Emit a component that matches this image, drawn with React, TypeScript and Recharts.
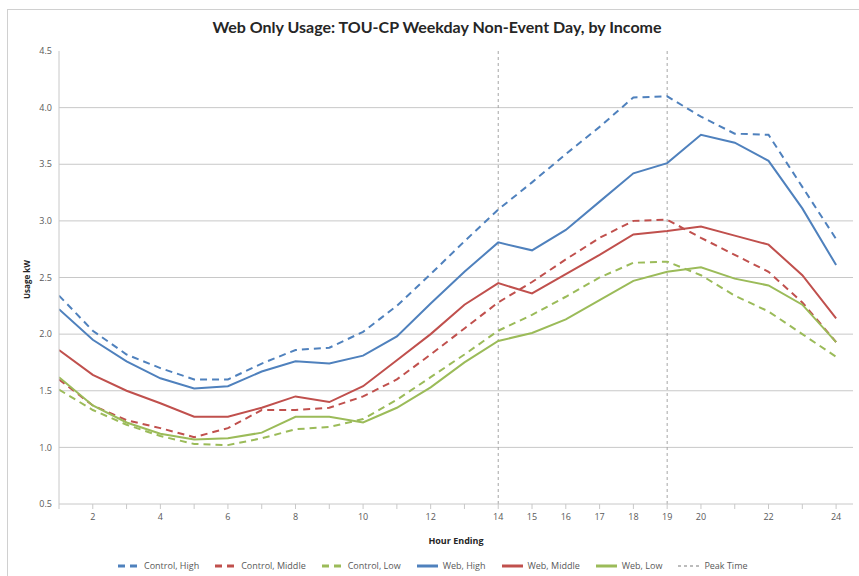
// Web only usage line chart, TOU-CP weekday non-event day, by income group

import { LineChart, Line, XAxis, YAxis, CartesianGrid, ReferenceLine } from 'recharts';

const hours = [1, 2, 3, 4, 5, 6, 7, 8, 9, 10, 11, 12, 13, 14, 15, 16, 17, 18, 19, 20, 21, 22, 23, 24];
const labeledHours = [2, 4, 6, 8, 10, 12, 14, 15, 16, 17, 18, 19, 20, 22, 24];
const yTicks = [0.5, 1.0, 1.5, 2.0, 2.5, 3.0, 3.5, 4.0, 4.5];
const peakHours = [14, 19];

const controlHigh = [2.34, 2.03, 1.82, 1.70, 1.60, 1.60, 1.74, 1.86, 1.88, 2.02, 2.25, 2.53, 2.82, 3.10, 3.34, 3.59, 3.83, 4.09, 4.10, 3.92, 3.77, 3.76, 3.30, 2.84];
const controlMiddle = [1.60, 1.37, 1.24, 1.17, 1.09, 1.17, 1.33, 1.33, 1.35, 1.45, 1.60, 1.82, 2.05, 2.28, 2.46, 2.66, 2.85, 3.00, 3.01, 2.85, 2.70, 2.55, 2.28, 1.93];
const controlLow = [1.51, 1.33, 1.20, 1.10, 1.03, 1.02, 1.08, 1.16, 1.18, 1.25, 1.42, 1.62, 1.82, 2.03, 2.17, 2.33, 2.50, 2.63, 2.64, 2.52, 2.34, 2.20, 2.00, 1.80];
const webHigh = [2.22, 1.95, 1.76, 1.61, 1.52, 1.54, 1.67, 1.76, 1.74, 1.81, 1.98, 2.27, 2.55, 2.81, 2.74, 2.92, 3.17, 3.42, 3.51, 3.76, 3.69, 3.53, 3.11, 2.61];
const webMiddle = [1.86, 1.64, 1.50, 1.39, 1.27, 1.27, 1.35, 1.45, 1.40, 1.54, 1.77, 2.00, 2.26, 2.45, 2.36, 2.53, 2.70, 2.88, 2.91, 2.95, 2.87, 2.79, 2.52, 2.14];
const webLow = [1.62, 1.37, 1.22, 1.12, 1.07, 1.08, 1.13, 1.27, 1.27, 1.22, 1.35, 1.53, 1.75, 1.94, 2.01, 2.13, 2.30, 2.47, 2.55, 2.59, 2.49, 2.43, 2.26, 1.93];

const BLUE = '#4F81BD';
const RED = '#C0504D';
const GREEN = '#9BBB59';
const GRID = '#C8C8C8';
const TEXT = '#595959';

const series = [
  { key: 'controlHigh', name: 'Control, High', color: BLUE, dashed: true },
  { key: 'controlMiddle', name: 'Control, Middle', color: RED, dashed: true },
  { key: 'controlLow', name: 'Control, Low', color: GREEN, dashed: true },
  { key: 'webHigh', name: 'Web, High', color: BLUE, dashed: false },
  { key: 'webMiddle', name: 'Web, Middle', color: RED, dashed: false },
  { key: 'webLow', name: 'Web, Low', color: GREEN, dashed: false },
];

const data = hours.map((h, i) => ({
  hour: h,
  controlHigh: controlHigh[i],
  controlMiddle: controlMiddle[i],
  controlLow: controlLow[i],
  webHigh: webHigh[i],
  webMiddle: webMiddle[i],
  webLow: webLow[i],
}));

const tickFont = { fontSize: 9, fill: TEXT, fontFamily: '"Liberation Sans Narrow", "Open Sans", sans-serif' };

function LegendRow() {
  const items = [
    ...series.map((s) => ({ name: s.name, color: s.color, dash: s.dashed ? '7 5' : undefined, width: 3 })),
    { name: 'Peak Time', color: '#A6A6A6', dash: '3 3', width: 1.5 },
  ];
  return (
    <div
      style={{
        position: 'absolute',
        top: 559,
        left: 118,
        display: 'flex',
        gap: 16,
        fontFamily: '"Liberation Sans Narrow", "Open Sans", sans-serif',
        fontSize: 9,
        color: TEXT,
        alignItems: 'center',
      }}
    >
      {items.map((it) => (
        <div key={it.name} style={{ display: 'flex', alignItems: 'center', gap: 5 }}>
          <svg width={21} height={12}>
            <line x1={0} y1={6} x2={21} y2={6} stroke={it.color} strokeWidth={it.width} strokeDasharray={it.dash} />
          </svg>
          <span>{it.name}</span>
        </div>
      ))}
    </div>
  );
}

export default function App() {
  return (
    <div style={{ position: 'absolute', left: 0, top: 0, width: 859, height: 576, background: '#fff', overflow: 'hidden' }}>
      <div
        style={{
          position: 'absolute',
          left: 7,
          top: 9,
          width: 880,
          height: 600,
          border: '1px solid #D0D0D0',
        }}
      />
      <div
        style={{
          position: 'absolute',
          top: 17,
          left: 0,
          width: 874,
          textAlign: 'center',
          fontFamily: 'Lato, "Open Sans", sans-serif',
          fontWeight: 'bold',
          fontSize: 16,
          color: '#262626',
        }}
      >
        Web Only Usage: TOU-CP Weekday Non-Event Day, by Income
      </div>
      <div style={{ position: 'absolute', left: 0, top: 0 }}>
        <LineChart width={859} height={576} data={data} margin={{ top: 51, right: 6, bottom: 42, left: 19 }}>
          <CartesianGrid vertical={false} stroke={GRID} horizontalValues={[1.0, 1.5, 2.0, 2.5, 3.0, 3.5, 4.0]} />
          <XAxis
            dataKey="hour"
            type="number"
            domain={[1, 24.5]}
            ticks={hours}
            interval={0}
            tickFormatter={(v: number) => (labeledHours.includes(v) ? String(v) : '')}
            tick={tickFont}
            tickSize={5}
            tickMargin={5}
            height={30}
            stroke={GRID}
            allowDataOverflow
          />
          <YAxis
            domain={[0.5, 4.5]}
            ticks={yTicks}
            tickFormatter={(v: number) => v.toFixed(1)}
            tick={tickFont}
            tickLine={false}
            tickSize={0}
            tickMargin={7}
            width={40}
            stroke={GRID}
          />
          {peakHours.map((h) => (
            <ReferenceLine key={h} x={h} stroke="#A6A6A6" strokeDasharray="3 3" strokeWidth={1} />
          ))}
          {series.map((s) => (
            <Line
              key={s.key}
              dataKey={s.key}
              name={s.name}
              stroke={s.color}
              strokeWidth={2}
              strokeDasharray={s.dashed ? '7 5' : undefined}
              dot={false}
              isAnimationActive={false}
              type="linear"
            />
          ))}
        </LineChart>
      </div>
      <div
        style={{
          position: 'absolute',
          top: 534,
          left: 406,
          width: 100,
          textAlign: 'center',
          fontFamily: '"Liberation Sans Narrow", "Open Sans", sans-serif',
          fontWeight: 'bold',
          fontSize: 9,
          color: '#262626',
        }}
      >
        Hour Ending
      </div>
      <div
        style={{
          position: 'absolute',
          top: 280,
          left: 26,
          width: 60,
          marginLeft: -30,
          marginTop: -6,
          textAlign: 'center',
          transform: 'rotate(-90deg)',
          fontFamily: '"Liberation Sans Narrow", "Open Sans", sans-serif',
          fontWeight: 'bold',
          fontSize: 8,
          color: '#262626',
        }}
      >
        Usage kW
      </div>
      <LegendRow />
    </div>
  );
}
